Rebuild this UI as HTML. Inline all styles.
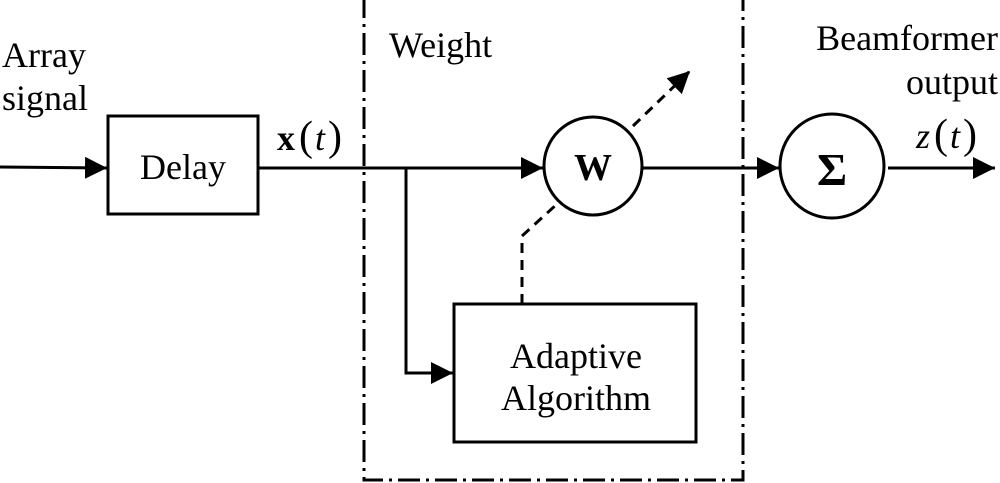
<!DOCTYPE html>
<html><head><meta charset="utf-8"><style>body{margin:0;background:#fff}svg{display:block}text{font-family:"Liberation Serif",serif;font-size:36px}</style></head><body>
<svg width="1000" height="483" viewBox="0 0 1000 483" xmlns="http://www.w3.org/2000/svg">
<defs>
<marker id="b" viewBox="0 0 22 22" markerWidth="22" markerHeight="22" refX="22" refY="11" orient="auto" markerUnits="userSpaceOnUse"><path d="M0,0 L22,11 L0,22Z"/></marker></defs>
<g stroke="#000" stroke-width="3" fill="none">
<rect x="364" y="-2" width="379" height="482" stroke-dasharray="22,6,3,6"/>
<line x1="0" y1="167" x2="107" y2="168" marker-end="url(#b)"/>
<rect x="108" y="116" width="150" height="98"/>
<line x1="258" y1="168" x2="543" y2="168" marker-end="url(#b)"/>
<circle cx="593" cy="166" r="49"/>
<line x1="642" y1="168" x2="779" y2="168" marker-end="url(#b)"/>
<circle cx="832" cy="166" r="52"/>
<line x1="888" y1="168" x2="995" y2="168" marker-end="url(#b)"/>
<polyline points="406,168 406,373 453,373" marker-end="url(#b)"/>
<rect x="454" y="304" width="242" height="138"/>
<polyline points="522,304 522,236 557,204" stroke-dasharray="10,7"/>
<line x1="633" y1="126" x2="690" y2="71" stroke-dasharray="10,7" marker-end="url(#b)"/>
</g>
<text x="2" y="67">Array</text>
<text x="2" y="110">signal</text>
<text x="183" y="179" text-anchor="middle">Delay</text>
<text x="277" y="150"><tspan font-weight="bold">x</tspan><tspan dx="4" font-size="42">(</tspan><tspan font-style="italic" dx="2">t</tspan><tspan dx="3" font-size="42">)</tspan></text>
<text x="389" y="57">Weight</text>
<text x="593" y="180" text-anchor="middle" font-weight="bold" style="font-size:38px">W</text>
<text x="832" y="185" text-anchor="middle" font-weight="bold" style="font-size:46px">Σ</text>
<text x="998" y="50" text-anchor="end">Beamformer</text>
<text x="998" y="94" text-anchor="end">output</text>
<text x="916" y="148"><tspan font-style="italic">z</tspan><tspan dx="4" font-size="42">(</tspan><tspan font-style="italic" dx="2">t</tspan><tspan dx="3" font-size="42">)</tspan></text>
<text x="576" y="368" text-anchor="middle">Adaptive</text>
<text x="576" y="410" text-anchor="middle">Algorithm</text>
</svg>
</body></html>
